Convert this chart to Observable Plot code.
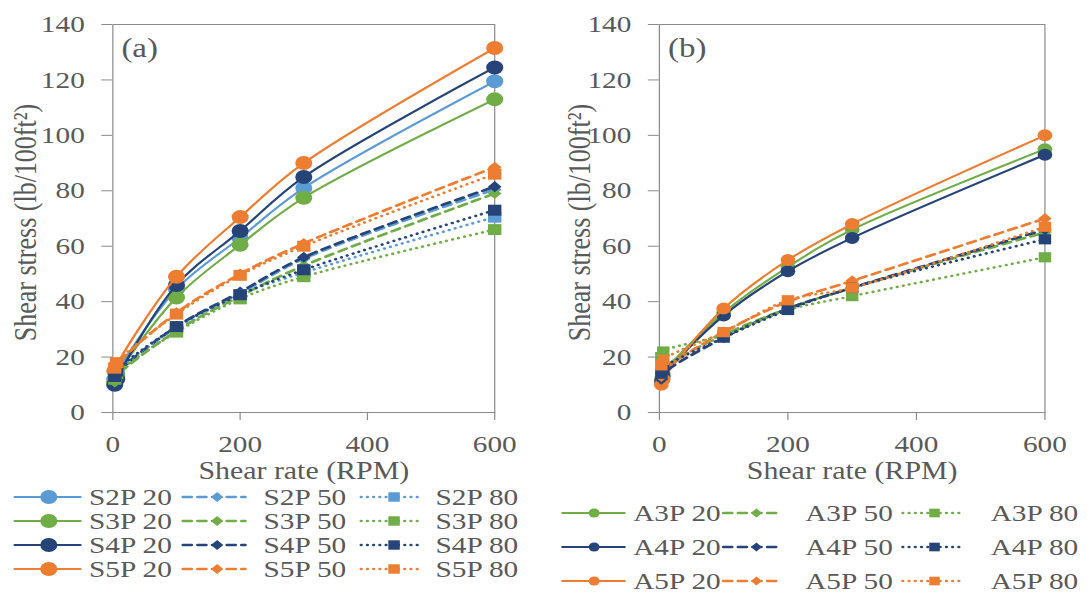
<!DOCTYPE html>
<html><head><meta charset="utf-8">
<script src="https://cdn.jsdelivr.net/npm/d3@7"></script>
<script src="https://cdn.jsdelivr.net/npm/@observablehq/plot@0.6"></script>
<style>
html,body{margin:0;padding:0;background:#fff;overflow:hidden;width:1087px;height:603px;}
#stage{position:absolute;left:0;top:0;width:891px;height:603px;transform:scaleX(1.22);transform-origin:0 0;font-family:"Liberation Serif","Times New Roman",serif;color:#595959;}
.panel{position:absolute;top:0;}
.item{position:absolute;height:22px;}
.item svg{position:absolute;top:0;overflow:visible;}
.item span{position:absolute;top:0;font-size:24px;line-height:22px;white-space:nowrap;color:#595959;}
</style></head>
<body>
<div id="stage">
  <div id="pa" class="panel" style="left:0px"></div>
  <div id="pb" class="panel" style="left:445px"></div>
  <div id="legend"></div>
</div>
<script>
// ---- data ----
const rpm = [3, 6, 100, 200, 300, 600];
const xTicks = [0, 200, 400, 600];
const yTicks = [0, 20, 40, 60, 80, 100, 120, 140];

// Panel (a)
const S2P_20 = [12, 14, 44.5, 63, 81, 119.5];
const S3P_20 = [11, 13, 41.5, 60.5, 77.5, 113];
const S4P_20 = [10, 12, 46, 65.5, 85, 124.5];
const S5P_20 = [15, 17, 49, 70.5, 90, 131.5];
const S2P_50 = [12, 14, 31, 43, 55.5, 80.5];
const S3P_50 = [11, 13, 29.5, 42, 53, 79];
const S4P_50 = [12, 14, 31, 43.5, 56, 81.5];
const S5P_50 = [15, 17, 36, 50, 61, 88.5];
const S2P_80 = [13, 15, 30.5, 42.5, 50.5, 70.5];
const S3P_80 = [12, 14, 29, 41, 49, 66];
const S4P_80 = [13, 15, 31, 42.5, 51.5, 73];
const S5P_80 = [16, 18, 35.5, 49.5, 60, 86];

// Panel (b)
const A3P_20 = [12, 14, 36, 52.5, 66, 95];
const A4P_20 = [11, 13, 35, 51, 63, 93];
const A5P_20 = [10, 12, 37.5, 55, 68, 100];
const A3P_50 = [14, 16, 28, 37.5, 45, 65];
const A4P_50 = [12, 14, 27, 37.5, 45, 66];
const A5P_50 = [13, 15, 29, 40, 47.5, 70];
const A3P_80 = [20, 22, 28, 37, 42, 56];
const A4P_80 = [14, 16, 27, 37, 45, 62.5];
const A5P_80 = [17, 19, 29, 40.5, 45, 67];

const lightBlue = "#5B9BD5", green = "#70AD47", darkBlue = "#264478", orange = "#ED7D31";

const seriesA = [
  {name: "S2P 20", v: S2P_20, c: lightBlue, t: "20"},
  {name: "S3P 20", v: S3P_20, c: green, t: "20"},
  {name: "S4P 20", v: S4P_20, c: darkBlue, t: "20"},
  {name: "S5P 20", v: S5P_20, c: orange, t: "20"},
  {name: "S2P 50", v: S2P_50, c: lightBlue, t: "50"},
  {name: "S3P 50", v: S3P_50, c: green, t: "50"},
  {name: "S4P 50", v: S4P_50, c: darkBlue, t: "50"},
  {name: "S5P 50", v: S5P_50, c: orange, t: "50"},
  {name: "S2P 80", v: S2P_80, c: lightBlue, t: "80"},
  {name: "S3P 80", v: S3P_80, c: green, t: "80"},
  {name: "S4P 80", v: S4P_80, c: darkBlue, t: "80"},
  {name: "S5P 80", v: S5P_80, c: orange, t: "80"}
];
const seriesB = [
  {name: "A3P 20", v: A3P_20, c: green, t: "20"},
  {name: "A4P 20", v: A4P_20, c: darkBlue, t: "20"},
  {name: "A5P 20", v: A5P_20, c: orange, t: "20"},
  {name: "A3P 50", v: A3P_50, c: green, t: "50"},
  {name: "A4P 50", v: A4P_50, c: darkBlue, t: "50"},
  {name: "A5P 50", v: A5P_50, c: orange, t: "50"},
  {name: "A3P 80", v: A3P_80, c: green, t: "80"},
  {name: "A4P 80", v: A4P_80, c: darkBlue, t: "80"},
  {name: "A5P 80", v: A5P_80, c: orange, t: "80"}
];

const lineStyle = {
  "20": {dash: null, width: 2, symbol: "circle"},
  "50": {dash: "7,5", width: 2.6, symbol: "diamond2"},
  "80": {dash: "0.1,5", width: 2.6, symbol: "square2"}
};

const axisGray = "#8c8c8c", textGray = "#595959";

function makePanel(series, o) {
  const marks = [Plot.frame({stroke: axisGray, strokeWidth: 1})];
  for (const s of series) {
    const rows = rpm.map((x, i) => ({x, y: s.v[i]}));
    const st = lineStyle[s.t];
    marks.push(Plot.line(rows, {x: "x", y: "y", stroke: s.c, strokeWidth: st.width,
      strokeDasharray: st.dash || undefined, strokeLinecap: "round", curve: "catmull-rom"}));
    marks.push(Plot.dot(rows, {x: "x", y: "y", fill: s.c, stroke: "none",
      symbol: st.symbol, r: o.r[s.t]}));
  }
  marks.push(
    Plot.axisY({ticks: yTicks, tickSize: 9, tickPadding: 14, fontSize: 24, stroke: axisGray, fill: textGray, label: null}),
    Plot.axisX({ticks: xTicks, tickSize: 8, tickPadding: 14, fontSize: 24, stroke: axisGray, fill: textGray, label: null}),
    Plot.text([o.tag], {frameAnchor: "top-left", dx: 7, dy: 13, lineAnchor: "top", textAnchor: "start", fontSize: 27, fill: textGray}),
    Plot.text(["Shear rate (RPM)"], {frameAnchor: "bottom", dy: 59, lineAnchor: "middle", textAnchor: "middle", fontSize: 24.5, fill: textGray}),
    Plot.text(["Shear stress (lb/100ft\u00B2)"], {frameAnchor: "left", dx: o.ytitleDx, dy: 4, rotate: -90, lineAnchor: "middle", textAnchor: "middle", fontSize: 26, fill: textGray})
  );
  return Plot.plot({
    width: o.width, height: 490,
    marginLeft: o.ml, marginRight: o.mr, marginTop: 24, marginBottom: 78,
    x: {domain: [0, 600]}, y: {domain: [0, 140]},
    style: {fontFamily: '"Liberation Serif","Times New Roman",serif', color: textGray, background: "transparent", overflow: "visible"},
    marks
  });
}

document.getElementById("pa").append(makePanel(seriesA, {width: 445, ml: 92, mr: 40, tag: "(a)", ytitleDx: -71, r: {"20": 7, "50": 5, "80": 7}}));
document.getElementById("pb").append(makePanel(seriesB, {width: 446, ml: 95, mr: 35, tag: "(b)", ytitleDx: -65, r: {"20": 6, "50": 5, "80": 6.5}}));

// ---- legends ----
const legend = document.getElementById("legend");
function symPath(sym, r) {
  const map = {circle: d3.symbolCircle, diamond2: d3.symbolDiamond2, square2: d3.symbolSquare2};
  return d3.symbol(map[sym], Math.PI * r * r)();
}
function addItem(s, cfg) {
  const st = lineStyle[s.t];
  const div = document.createElement("div");
  div.className = "item";
  div.style.left = "0px"; div.style.top = (cfg.y - 11) + "px";
  const w = cfg.x1 - cfg.x0;
  const svg = d3.create("svg").attr("width", w).attr("height", 22).style("left", cfg.x0 + "px");
  svg.append("line").attr("x1", 0).attr("x2", w).attr("y1", 11).attr("y2", 11)
    .attr("stroke", s.c).attr("stroke-width", st.width).attr("stroke-linecap", "round")
    .attr("stroke-dasharray", st.dash);
  svg.append("path").attr("d", symPath(st.symbol, cfg.r)).attr("transform", `translate(${cfg.m - cfg.x0},11)`).attr("fill", s.c);
  div.append(svg.node());
  const sp = document.createElement("span");
  sp.textContent = s.name; sp.style.left = cfg.tx + "px";
  div.append(sp);
  legend.append(div);
}
// panel (a) legend: columns by level, rows by material
const colsA = {"20": {x0: 12, x1: 66, m: 40, tx: 73, r: 7}, "50": {x0: 150, x1: 201, m: 178, tx: 216, r: 4.5}, "80": {x0: 296, x1: 343, m: 323, tx: 357, r: 6}};
const rowsA = [497, 521, 545, 569];
seriesA.forEach((s, i) => { const c = colsA[s.t]; addItem(s, {...c, y: rowsA[i % 4]}); });
const colsB = {"20": {x0: 461, x1: 512, m: 487, tx: 519, r: 4.5}, "50": {x0: 593, x1: 641, m: 620, tx: 660, r: 4}, "80": {x0: 740, x1: 789, m: 766, tx: 812, r: 5.5}};
const rowsB = [513, 547, 581];
seriesB.forEach((s, i) => { const c = colsB[s.t]; addItem(s, {...c, y: rowsB[i % 3]}); });
</script>
</body></html>
